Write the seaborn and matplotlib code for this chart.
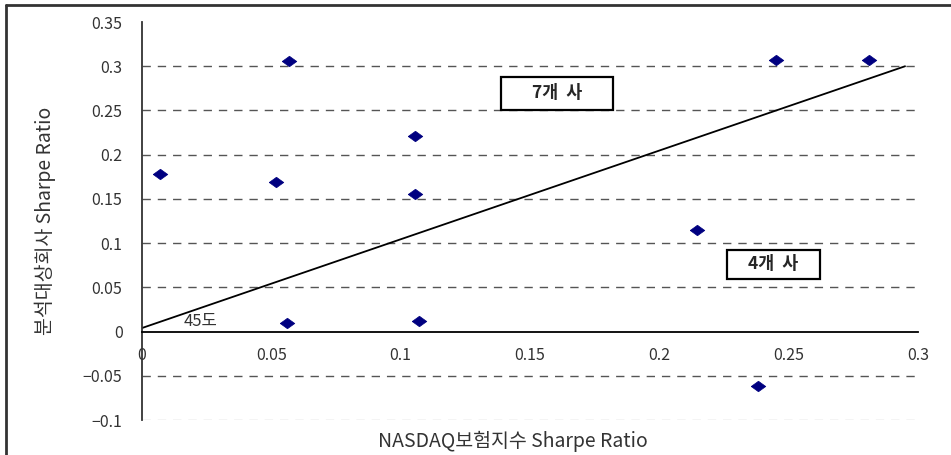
import matplotlib
matplotlib.use("Agg")
import matplotlib.pyplot as plt
from matplotlib.lines import Line2D
from matplotlib.patches import Rectangle
import seaborn as sns
import pandas as pd

# data
nasdaq_sr = [0.007, 0.052, 0.057, 0.1055, 0.1055, 0.056, 0.107, 0.2145, 0.238, 0.245, 0.281]
company_sr = [0.178, 0.169, 0.306, 0.221, 0.156, 0.010, 0.012, 0.115, -0.062, 0.307, 0.307]
line_x = [0.0, 0.295]
line_y = [0.004, 0.300]
x_ticks = [0, 0.05, 0.1, 0.15, 0.2, 0.25, 0.3]
x_tick_labels = ["0", "0.05", "0.1", "0.15", "0.2", "0.25", "0.3"]
y_ticks = [-0.1, -0.05, 0, 0.05, 0.1, 0.15, 0.2, 0.25, 0.3, 0.35]
y_tick_labels = ["−0.1", "−0.05", "0", "0.05", "0.1", "0.15", "0.2", "0.25", "0.3", "0.35"]
box_labels = ["7개  사", "4개  사"]

sns.set_style("white")
plt.rcParams['font.family'] = ['Noto Sans CJK KR', 'DejaVu Sans']

df = pd.DataFrame({"x": nasdaq_sr, "y": company_sr})

fig = plt.figure(figsize=(9.51, 4.55), dpi=100)
ax = fig.add_axes([0.1493, 0.0769, 0.816, 0.8747])

# grid lines
for yv in y_ticks:
    if yv == 0 or yv == 0.35:
        continue
    col = "#c8c8c8" if yv == -0.1 else "#555555"
    ax.axhline(yv, color=col, lw=1.0, ls=(0, (6, 5)), zorder=1)

ax.plot(line_x, line_y, color="black", lw=1.3, zorder=2)

diamond = [(-1, 0), (0, 0.72), (1, 0), (0, -0.72), (-1, 0)]
sns.scatterplot(data=df, x="x", y="y", ax=ax, marker=diamond, s=110,
                color="#000080", edgecolor="#000080", linewidth=0.5, zorder=3, legend=False)

ax.set_xlim(0, 0.3)
ax.set_ylim(-0.1, 0.35)

# spines
ax.spines['top'].set_visible(False)
ax.spines['right'].set_visible(False)
ax.spines['bottom'].set_position(('data', 0))
ax.spines['bottom'].set_color('black')
ax.spines['left'].set_color('#333333')
ax.spines['bottom'].set_linewidth(1.3)
ax.spines['left'].set_linewidth(1.3)

ax.set_xticks(x_ticks)
ax.set_xticklabels(x_tick_labels)
ax.set_yticks(y_ticks)
ax.set_yticklabels(y_tick_labels)
ax.tick_params(axis='x', direction='in', length=5, width=1, pad=11, labelsize=11.5, colors='black', labelcolor='#333333')
ax.tick_params(axis='y', direction='in', length=5, width=1, pad=14, labelsize=11.5, labelcolor='#333333')

ax.set_xlabel("NASDAQ보험지수 Sharpe Ratio", fontsize=14, color='#333333', labelpad=0, va='center')
ax.xaxis.set_label_coords(0.478, -0.055)
ax.set_ylabel("분석대상회사 Sharpe Ratio", fontsize=14, color='#333333', va='center')
ax.yaxis.set_label_coords(-0.125, 0.5)

# annotation boxes
boxes = [(0.1388, 0.2506, 0.0433, 0.0372), (0.2262, 0.0598, 0.0359, 0.0328)]
for (bx, by, bw, bh), lab in zip(boxes, box_labels):
    ax.add_patch(Rectangle((bx, by), bw, bh, fc="white", ec="black", lw=1.6, zorder=4))
    ax.text(bx + bw / 2, by + bh / 2, lab, fontsize=12.5, fontweight='bold',
            ha='center', va='center', zorder=5)

ax.text(0.016, 0.0015, "45도", fontsize=12, color='#333333', ha='left', va='bottom')

# outer frame (left and top edges)
fig.add_artist(Line2D([6/951, 6/951], [0, 1 - 5/455], transform=fig.transFigure, color='#333333', lw=2))
fig.add_artist(Line2D([6/951, 1], [1 - 5/455, 1 - 5/455], transform=fig.transFigure, color='#333333', lw=2))

fig.savefig("out.png", dpi=100)
